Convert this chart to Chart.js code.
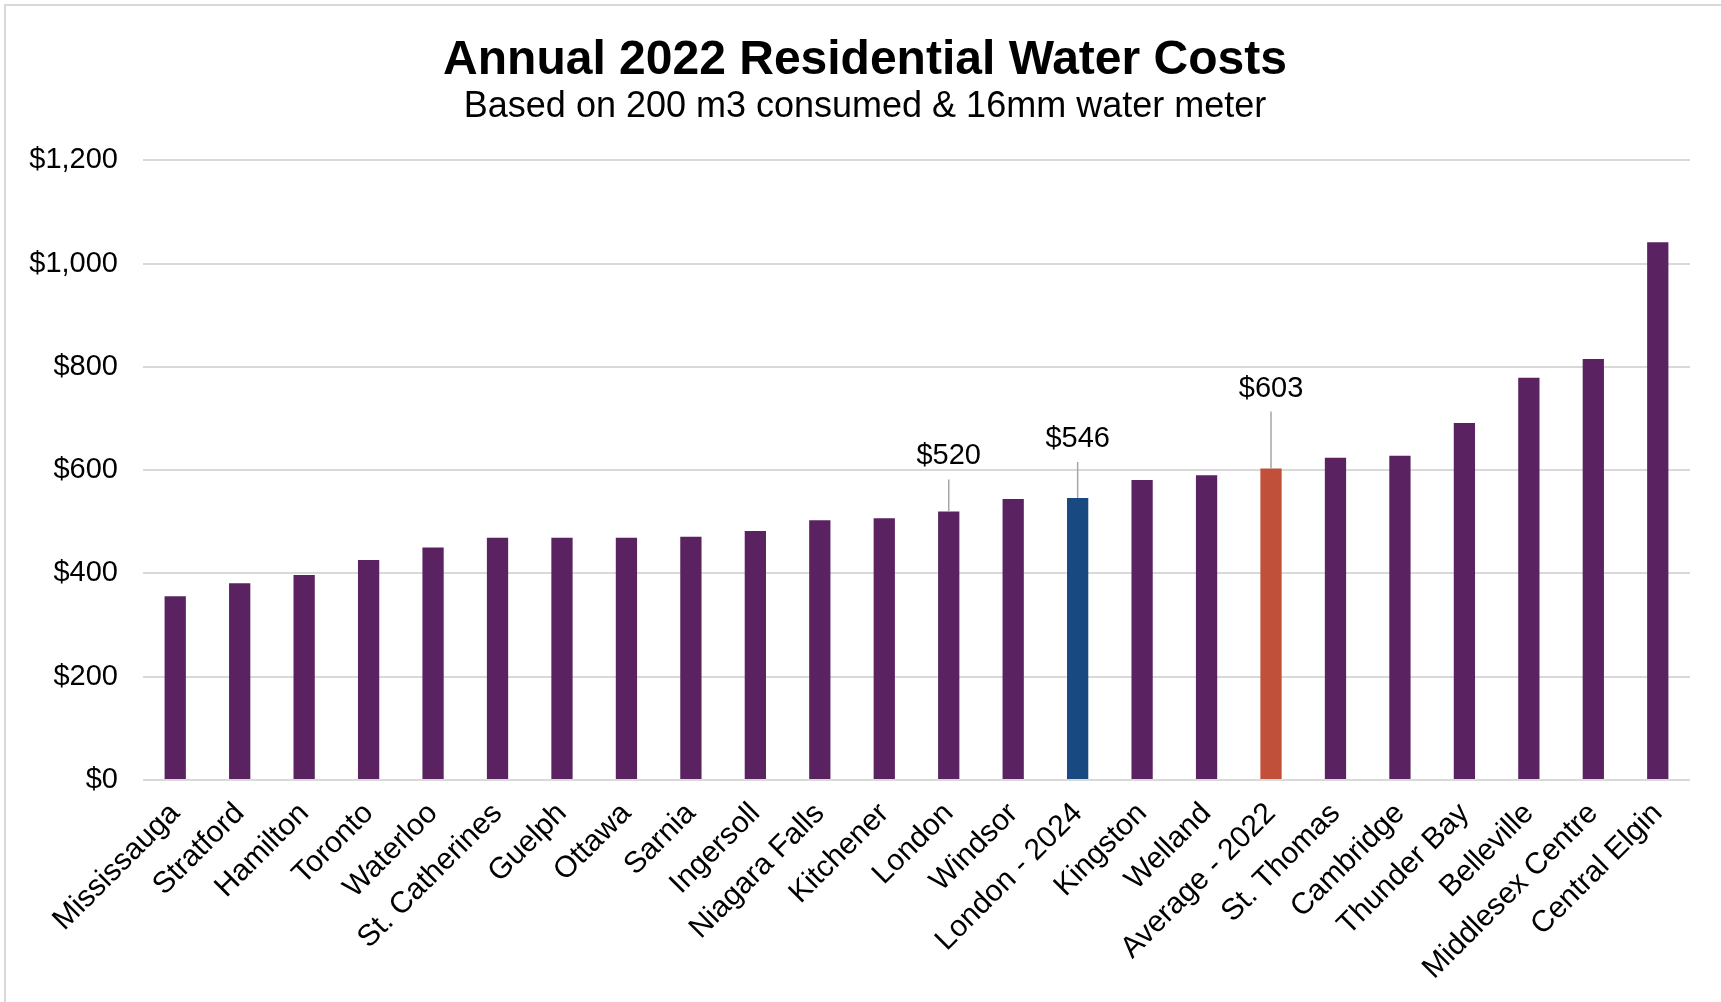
<!DOCTYPE html>
<html>
<head>
<meta charset="utf-8">
<title>Annual 2022 Residential Water Costs</title>
<script src="https://cdn.jsdelivr.net/npm/chart.js@4.4.1/dist/chart.umd.min.js"></script>
<style>
  html, body { margin: 0; padding: 0; background: #fff; overflow: hidden; }
  #wrap { width: 1721px; height: 1002px; position: relative; }
</style>
</head>
<body>
<div id="wrap"><canvas id="waterChart" width="1721" height="1002"></canvas></div>
<script>
// categories and values
var cities = ["Mississauga", "Stratford", "Hamilton", "Toronto", "Waterloo", "St. Catherines",
    "Guelph", "Ottawa", "Sarnia", "Ingersoll", "Niagara Falls", "Kitchener", "London", "Windsor",
    "London - 2024", "Kingston", "Welland", "Average - 2022", "St. Thomas", "Cambridge",
    "Thunder Bay", "Belleville", "Middlesex Centre", "Central Elgin"];
var costs = [356, 381, 397, 426, 450, 469, 469, 469, 471, 482, 503, 507, 520, 544,
    546, 581, 590, 603, 624, 628, 691, 779, 815, 1041];
var yTicks = [0, 200, 400, 600, 800, 1000, 1200];
var labelledCities = ["London", "London - 2024", "Average - 2022"];

window.onload = () => {
    var purple = "#5a2261";
    var colours = cities.map(function (c) {
        if (c === "London - 2024") return "#184a81";
        if (c === "Average - 2022") return "#c0503a";
        return purple;
    });

    // grey frame round the chart
    var framePlugin = {
        id: 'frame',
        beforeDraw: function (chart) {
            var c = chart.ctx;
            c.save();
            c.strokeStyle = "#d9d9d9";
            c.lineWidth = 2;
            c.strokeRect(5, 5, chart.width + 20, chart.height + 20);
            c.restore();
        }
    };

    // value labels with leader lines
    var calloutPlugin = {
        id: 'callouts',
        afterDatasetsDraw: function (chart, args, opts) {
            var c = chart.ctx;
            var meta = chart.getDatasetMeta(0);
            c.save();
            c.font = "29px 'Liberation Sans', Arial, sans-serif";
            c.fillStyle = "#000";
            c.textAlign = "center";
            c.textBaseline = "middle";
            labelledCities.forEach(function (name, i) {
                var idx = cities.indexOf(name);
                var bar = meta.data[idx];
                var ly = bar.y - opts.lift[i];
                c.strokeStyle = "#a6a6a6";
                c.lineWidth = 1.5;
                c.beginPath();
                c.moveTo(bar.x, bar.y);
                c.lineTo(bar.x, ly + 23);
                c.stroke();
                c.fillText("$" + costs[idx], bar.x, ly);
            });
            c.restore();
        }
    };

    var ctx = document.getElementById("waterChart").getContext("2d");
    var chart = new Chart(ctx, {
        type: 'bar',
        data: {
            labels: cities,
            datasets: [{
                label: "Annual cost",
                data: costs,
                backgroundColor: colours,
                barPercentage: 0.33,
                categoryPercentage: 1
            }]
        },
        plugins: [framePlugin, calloutPlugin],
        options: {
            responsive: false,
            animation: false,
            layout: {
                padding: { top: 0, left: 9, right: 0, bottom: 0 }
            },
            plugins: {
                legend: { display: false },
                tooltip: { enabled: false },
                title: {
                    display: true,
                    text: "Annual 2022 Residential Water Costs",
                    color: "#000",
                    font: { family: "'Liberation Sans', Arial, sans-serif", size: 48, weight: 'bold', lineHeight: 1.1 },
                    padding: { top: 34, bottom: 0 }
                },
                subtitle: {
                    display: true,
                    text: "Based on 200 m3 consumed & 16mm water meter",
                    color: "#000",
                    font: { family: "'Liberation Sans', Arial, sans-serif", size: 36, lineHeight: 1.15 },
                    padding: { top: 0, bottom: 32 }
                },
                callouts: { lift: [55, 59, 80] }
            },
            scales: {
                x: {
                    grid: { display: false },
                    border: { display: false },
                    ticks: {
                        color: "#000",
                        font: { family: "'Liberation Sans', Arial, sans-serif", size: 30 },
                        maxRotation: 45,
                        minRotation: 45,
                        autoSkip: false,
                        padding: 8
                    },
                    afterFit: function (s) { s.height = 222; }
                },
                y: {
                    min: 0,
                    max: 1200,
                    afterBuildTicks: function (s) {
                        s.ticks = yTicks.map(function (v) { return { value: v }; });
                    },
                    grid: { color: "#d9d9d9", lineWidth: 2, drawTicks: false },
                    border: { display: false },
                    ticks: {
                        color: "#000",
                        padding: 25,
                        font: { family: "'Liberation Sans', Arial, sans-serif", size: 29 },
                        callback: function (v) { return "$" + v.toLocaleString("en-US"); }
                    },
                    afterFit: function (s) { s.width = 134; }
                },
                // empty right-hand axis, only keeps the right margin
                yRight: {
                    type: 'linear',
                    position: 'right',
                    min: 0,
                    max: 1200,
                    grid: { display: false },
                    border: { display: false },
                    ticks: { display: false },
                    afterFit: function (s) { s.width = 31; }
                }
            }
        }
    });
};
</script>
</body>
</html>
